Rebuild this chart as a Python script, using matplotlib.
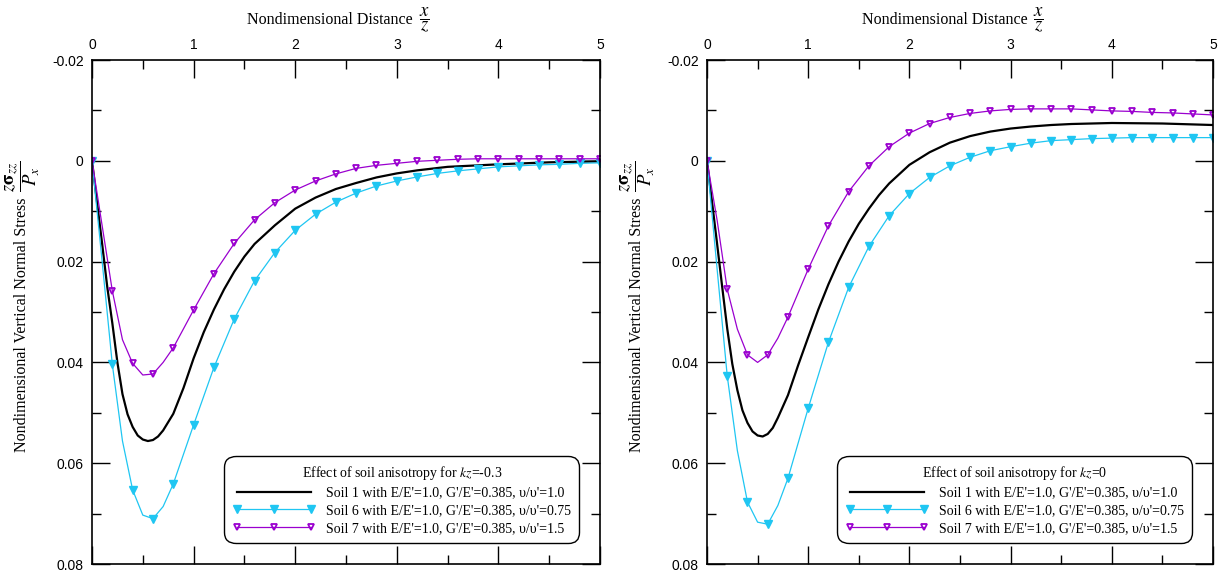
import matplotlib
matplotlib.use("Agg")
import matplotlib.pyplot as plt
from matplotlib.ticker import MultipleLocator, FixedLocator, FuncFormatter

plt.rcParams['mathtext.fontset'] = 'stix'

# ---------------- data ----------------
# x positions for marker series (markers drawn at multiples of 0.2)
x_mk = [0, 0.1, 0.2, 0.3, 0.4, 0.5, 0.6, 0.7, 0.8, 1.0, 1.2, 1.4, 1.6, 1.8, 2.0,
        2.2, 2.4, 2.6, 2.8, 3.0, 3.2, 3.4, 3.6, 3.8, 4.0, 4.2, 4.4, 4.6, 4.8, 5.0]

# Panel 1: kz = -0.3
soil7_a = [0, 0.0129, 0.0258, 0.0355, 0.0402, 0.0425, 0.0423, 0.0400, 0.0371, 0.0296,
           0.0224, 0.0164, 0.0117, 0.0083, 0.0058, 0.0040, 0.0026, 0.0015, 0.0009, 0.0005,
           0.0001, -0.0001, -0.0003, -0.0004, -0.0004, -0.0004, -0.0004, -0.0004, -0.0004, -0.0004]
soil6_a = [0, 0.0200, 0.0404, 0.0556, 0.0653, 0.0703, 0.0710, 0.0686, 0.0641, 0.0524,
           0.0410, 0.0314, 0.0238, 0.0182, 0.0138, 0.0106, 0.0082, 0.0064, 0.0050, 0.0040,
           0.0032, 0.0025, 0.0020, 0.0016, 0.0012, 0.0010, 0.0008, 0.0007, 0.0005, 0.0004]
x_s1_a = [0, 0.05, 0.1, 0.15, 0.2, 0.25, 0.3, 0.35, 0.4, 0.45, 0.5, 0.55, 0.6, 0.65, 0.7,
          0.8, 0.9, 1.0, 1.1, 1.2, 1.3, 1.4, 1.5, 1.6, 1.8, 2.0, 2.2, 2.4, 2.6, 2.8,
          3.0, 3.2, 3.5, 4.0, 4.5, 5.0]
soil1_a = [0, 0.0083, 0.0165, 0.0250, 0.0322, 0.0400, 0.0463, 0.0503, 0.0528, 0.0545,
           0.0553, 0.0556, 0.0554, 0.0547, 0.0535, 0.0502, 0.0451, 0.0392, 0.0340, 0.0295,
           0.0255, 0.0220, 0.0190, 0.0165, 0.0128, 0.0095, 0.0073, 0.0056, 0.0044, 0.0033,
           0.0025, 0.0019, 0.0012, 0.0007, 0.0003, 0.0001]

# Panel 2: kz = 0
soil7_b = [0, 0.0118, 0.0255, 0.0334, 0.0385, 0.0400, 0.0385, 0.0352, 0.0310, 0.0215,
           0.0129, 0.0061, 0.0010, -0.0028, -0.0055, -0.0074, -0.0086, -0.0094, -0.0099, -0.0102,
           -0.0103, -0.0103, -0.0103, -0.0101, -0.0099, -0.0098, -0.0096, -0.0095, -0.0093, -0.0091]
soil6_b = [0, 0.0215, 0.0427, 0.0575, 0.0677, 0.0717, 0.0721, 0.0684, 0.0630, 0.0491,
           0.0360, 0.0251, 0.0170, 0.0109, 0.0065, 0.0033, 0.0010, -0.0007, -0.0020, -0.0028,
           -0.0035, -0.0040, -0.0042, -0.0044, -0.0045, -0.0046, -0.0046, -0.0046, -0.0046, -0.0046]
x_s1_b = [0, 0.05, 0.1, 0.15, 0.2, 0.25, 0.3, 0.35, 0.4, 0.45, 0.5, 0.55, 0.6, 0.65, 0.7,
          0.8, 0.9, 1.0, 1.1, 1.2, 1.3, 1.4, 1.5, 1.6, 1.7, 1.8, 2.0, 2.2, 2.4, 2.6,
          2.8, 3.0, 3.2, 3.4, 3.6, 3.8, 4.0, 4.5, 5.0]
soil1_b = [0, 0.0082, 0.0165, 0.0250, 0.0333, 0.0403, 0.0455, 0.0495, 0.0520, 0.0537,
           0.0545, 0.0547, 0.0542, 0.0530, 0.0510, 0.0465, 0.0406, 0.0350, 0.0295, 0.0245,
           0.0200, 0.0160, 0.0125, 0.0095, 0.0068, 0.0045, 0.0008, -0.0017, -0.0036, -0.0049,
           -0.0058, -0.0064, -0.0068, -0.0071, -0.0073, -0.0074, -0.0075, -0.0074, -0.0071]

kz_values = ['-0.3', '0']
label_s1 = "Soil 1 with E/E'=1.0, G'/E'=0.385, \u03c5/\u03c5'=1.0"
label_s6 = "Soil 6 with E/E'=1.0, G'/E'=0.385, \u03c5/\u03c5'=0.75"
label_s7 = "Soil 7 with E/E'=1.0, G'/E'=0.385, \u03c5/\u03c5'=1.5"
y_ticks = [-0.02, 0, 0.02, 0.04, 0.06, 0.08]
x_ticks = [0, 1, 2, 3, 4, 5]

CYAN = '#1fc6f2'
PURPLE = '#9a00cf'
SERIF = 'Liberation Serif'
SANS = 'Liberation Sans'

fig = plt.figure(figsize=(12.22, 5.72), dpi=100)
axes_pos = [[92/1222, 8/572, 508/1222, 504/572],
            [707/1222, 8/572, 506/1222, 504/572]]

panels = [(x_s1_a, soil1_a, soil6_a, soil7_a), (x_s1_b, soil1_b, soil6_b, soil7_b)]

mark_mask = [round(v * 10) % 2 == 0 for v in x_mk]

for i, (xs1, s1, s6, s7) in enumerate(panels):
    ax = fig.add_axes(axes_pos[i])
    ax.plot(xs1, s1, color='black', lw=1.6, label=label_s1)
    ax.plot(x_mk, s6, color=CYAN, lw=0.9, marker='v', ms=5.5, mfc=CYAN, mec=CYAN,
            markevery=mark_mask, label=label_s6)
    ax.plot(x_mk, s7, color=PURPLE, lw=0.9, marker='v', ms=5, mfc='none', mec=PURPLE,
            mew=1.3, markevery=mark_mask, label=label_s7)

    ax.set_xlim(0, 5)
    ax.set_ylim(0.08, -0.02)
    ax.xaxis.set_major_locator(FixedLocator(x_ticks))
    ax.xaxis.set_minor_locator(MultipleLocator(0.5))
    ax.yaxis.set_major_locator(FixedLocator(y_ticks))
    ax.yaxis.set_minor_locator(MultipleLocator(0.01))
    ax.yaxis.set_major_formatter(FuncFormatter(lambda v, p: '0' if abs(v) < 1e-12 else ('%g' % v)))
    ax.xaxis.set_major_formatter(FuncFormatter(lambda v, p: '%d' % round(v)))

    ax.tick_params(which='both', direction='in', top=True, bottom=True, left=True, right=True,
                   labeltop=True, labelbottom=False, labelsize=10, color='black', width=1)
    ax.tick_params(which='major', length=13, pad=6)
    ax.tick_params(which='minor', length=6.5)
    for lab in ax.get_xticklabels() + ax.get_yticklabels():
        lab.set_fontfamily(SANS)
    for sp in ax.spines.values():
        sp.set_linewidth(1.2)

    # x label (top) with a larger fraction next to it
    ax.xaxis.set_label_position('top')
    xl = ax.set_xlabel('Nondimensional Distance', fontsize=11.5, family=SERIF)
    ax.xaxis.set_label_coords(0.469, 1.072)
    ax.annotate(r'$\dfrac{x}{z}$', xy=(1, 0.45), xycoords=xl, xytext=(4, 0),
                textcoords='offset points', ha='left', va='center', fontsize=13.5)

    # y label with a larger fraction above it
    yl = ax.set_ylabel('Nondimensional Vertical Normal Stress', fontsize=11.5, family=SERIF)
    ax.yaxis.set_label_coords(-0.123, 0.475)
    ax.annotate(r'$\dfrac{z\mathbf{\sigma}_{zz}}{P_{x}}$', xy=(0.55, 1), xycoords=yl, xytext=(0, 4),
                textcoords='offset points', ha='center', va='bottom', rotation=90, fontsize=13.5)

    leg = ax.legend(loc='lower right', title=r'Effect of soil anisotropy for $kz$=' + kz_values[i],
                    prop={'family': SERIF, 'size': 10}, title_fontproperties={'family': SERIF, 'size': 10},
                    handlelength=5.9, numpoints=3, fancybox=True, framealpha=1,
                    edgecolor='black', borderaxespad=1.5, borderpad=0.6, labelspacing=0.33,
                    handletextpad=0.8)
    leg.get_frame().set_linewidth(1.0)
    leg.get_frame().set_boxstyle('round,pad=0,rounding_size=0.8')

fig.savefig('out.png', dpi=100)
